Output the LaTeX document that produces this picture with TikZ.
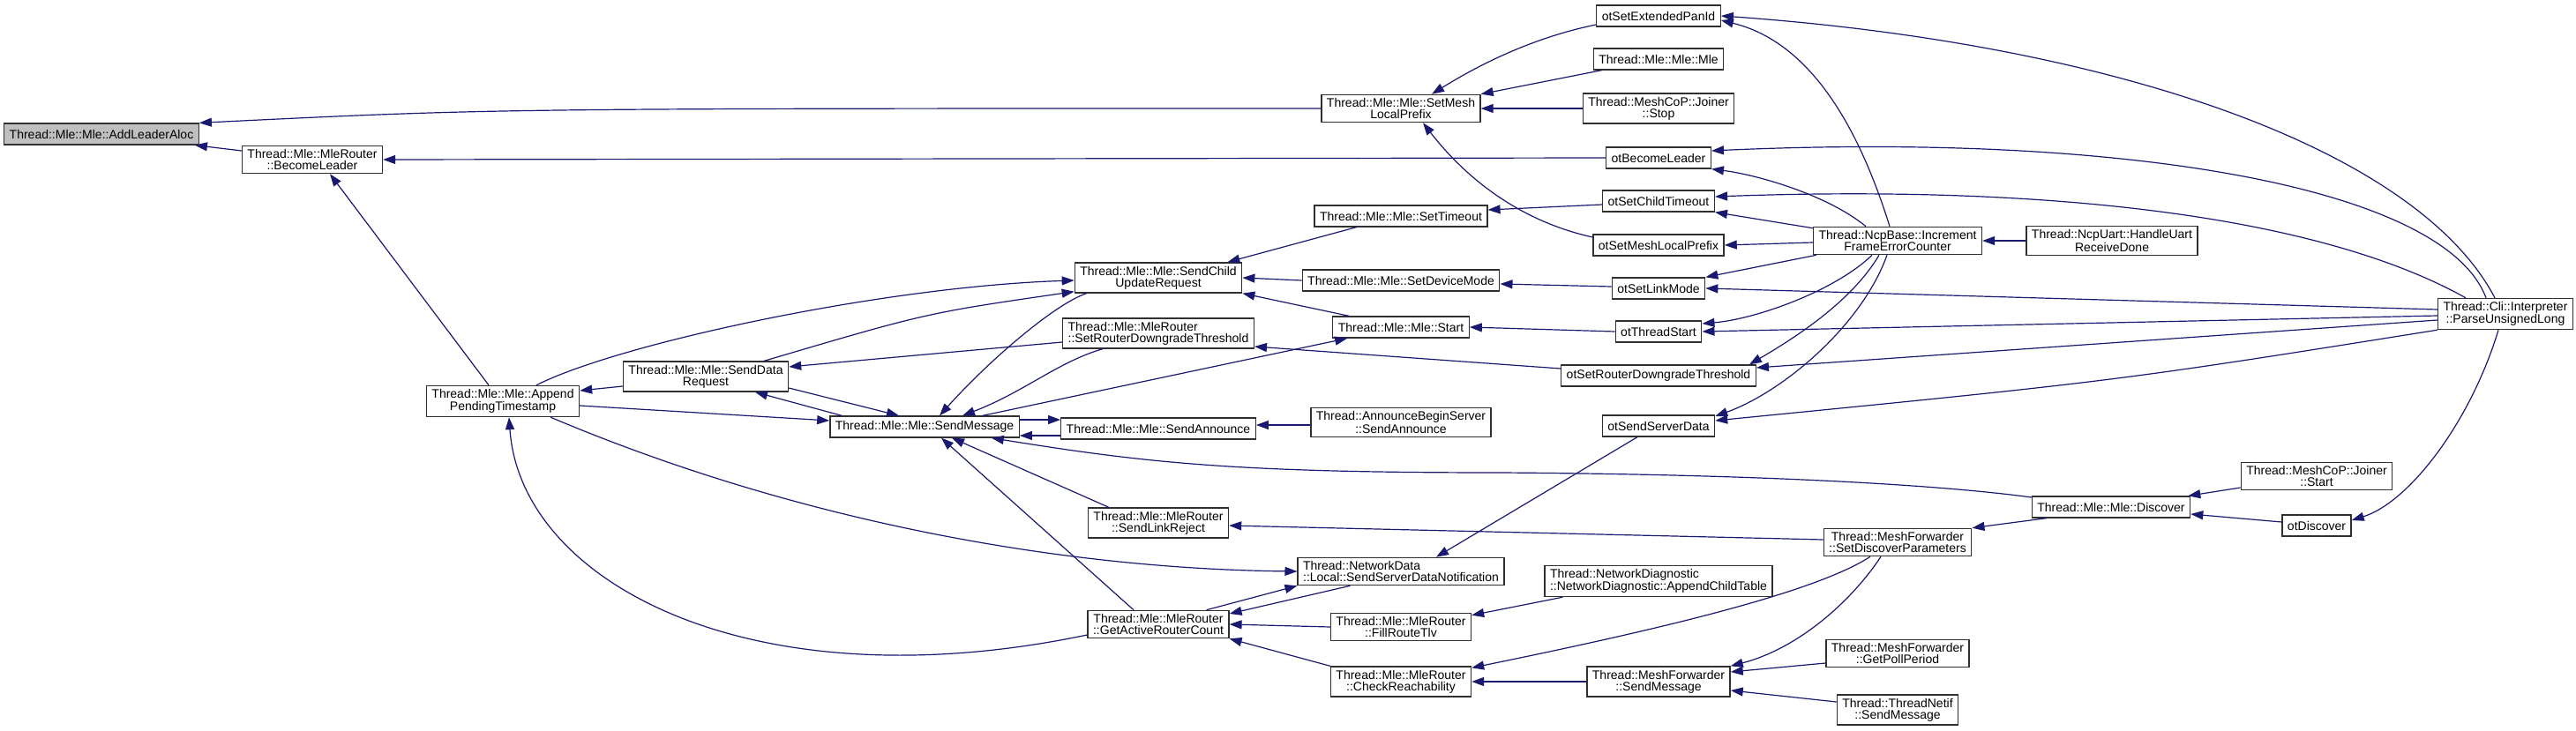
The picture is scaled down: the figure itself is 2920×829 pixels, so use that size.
\documentclass[tikz,border=0pt]{standalone}
\usepackage{fontspec}
\setmainfont{Liberation Sans}
\usepackage{xcolor}
\usepackage{tikz}
\usetikzlibrary{arrows.meta}
\definecolor{callblue}{HTML}{191970}
\definecolor{focusgray}{HTML}{BFBFBF}
\definecolor{boxline}{HTML}{303030}

\begin{document}
\begin{tikzpicture}[x=1pt, y=-1pt,
        fn/.style={rectangle, draw=boxline, line width=1.3pt, fill=white, font={\fontsize{14}{13}\selectfont}, align=center, inner xsep=6pt, inner ysep=4pt, minimum height=24pt},
        fnl/.style={fn, align=left},
        callline/.style={<-, >={Triangle[length=14pt, width=10pt]}, draw=callblue, line width=1.2pt}]
        \useasboundingbox (0,0) rectangle (2920,829);

        \node (addleader) [fn, fill=focusgray] at (115,152) {Thread::Mle::Mle::AddLeaderAloc};
        \node (becomeleader) [fn] at (354,181) {Thread::Mle::MleRouter\\::BecomeLeader};
        \node (append) [fn] at (570,455) {Thread::Mle::Mle::Append\\PendingTimestamp};
        \node (senddata) [fn] at (800,427) {Thread::Mle::Mle::SendData\\Request};
        \node (sendmsg) [fn] at (1048,484) {Thread::Mle::Mle::SendMessage};
        \node (scur) [fn] at (1313,315) {Thread::Mle::Mle::SendChild\\UpdateRequest};
        \node (srdt) [fnl] at (1313,378) {Thread::Mle::MleRouter\\::SetRouterDowngradeThreshold};
        \node (sendann) [fn] at (1313,486) {Thread::Mle::Mle::SendAnnounce};
        \node (linkrej) [fn] at (1313,593) {Thread::Mle::MleRouter\\::SendLinkReject};
        \node (activecnt) [fn] at (1313,708) {Thread::Mle::MleRouter\\::GetActiveRouterCount};
        \node (setmesh) [fn] at (1588,123) {Thread::Mle::Mle::SetMesh\\LocalPrefix};
        \node (settimeout) [fn] at (1588,245) {Thread::Mle::Mle::SetTimeout};
        \node (devmode) [fn] at (1588,318) {Thread::Mle::Mle::SetDeviceMode};
        \node (mlestart) [fn] at (1588,371) {Thread::Mle::Mle::Start};
        \node (annserver) [fn] at (1588,479) {Thread::AnnounceBeginServer\\::SendAnnounce};
        \node (ssdn) [fnl] at (1588,648) {Thread::NetworkData\\::Local::SendServerDataNotification};
        \node (filltlv) [fn] at (1588,711) {Thread::Mle::MleRouter\\::FillRouteTlv};
        \node (checkreach) [fn] at (1588,773) {Thread::Mle::MleRouter\\::CheckReachability};
        \node (otextpan) [fn] at (1880,18) {otSetExtendedPanId};
        \node (mlemle) [fn] at (1880,67) {Thread::Mle::Mle::Mle};
        \node (joinstop) [fn] at (1880,123) {Thread::MeshCoP::Joiner\\::Stop};
        \node (otbecome) [fn] at (1880,179) {otBecomeLeader};
        \node (otchild) [fn] at (1880,228) {otSetChildTimeout};
        \node (otmeshpfx) [fn] at (1880,278) {otSetMeshLocalPrefix};
        \node (otlinkmode) [fn] at (1880,327) {otSetLinkMode};
        \node (otstart) [fn] at (1880,376) {otThreadStart};
        \node (otsrdt) [fn] at (1880,426) {otSetRouterDowngradeThreshold};
        \node (otserver) [fn] at (1880,483) {otSendServerData};
        \node (childtable) [fnl] at (1880,659) {Thread::NetworkDiagnostic\\::NetworkDiagnostic::AppendChildTable};
        \node (mfsend) [fn] at (1880,773) {Thread::MeshForwarder\\::SendMessage};
        \node (ncpbase) [fn] at (2151,273) {Thread::NcpBase::Increment\\FrameErrorCounter};
        \node (discparams) [fn] at (2151,615) {Thread::MeshForwarder\\::SetDiscoverParameters};
        \node (pollperiod) [fn] at (2151,741) {Thread::MeshForwarder\\::GetPollPeriod};
        \node (netifsend) [fn] at (2151,805) {Thread::ThreadNetif\\::SendMessage};
        \node (uartdone) [fn] at (2394,273) {Thread::NcpUart::HandleUart\\ReceiveDone};
        \node (discover) [fn] at (2393,575) {Thread::Mle::Mle::Discover};
        \node (joinstart) [fn] at (2626,540) {Thread::MeshCoP::Joiner\\::Start};
        \node (otdiscover) [fn] at (2626,596) {otDiscover};
        \node (parseul) [fn] at (2840,356) {Thread::Cli::Interpreter\\::ParseUnsignedLong};

        \draw [callline] (addleader.north east) .. controls (560,123) .. (setmesh.west);
        \draw [callline] ([xshift=-5pt]addleader.south east) -- ([yshift=10pt]becomeleader.west);
        \draw [callline] (becomeleader.east) -- (otbecome.west);
        \draw [callline] ([xshift=20pt]becomeleader.south) -- ([xshift=-16pt]append.north);
        \draw [callline] ([yshift=12pt]append.east) -- ([yshift=-11pt]senddata.west);
        \draw [callline] ([yshift=-3pt]scur.west) .. controls (1000,325) and (700,390) .. ([xshift=38pt]append.north);
        \draw [callline] ([yshift=7pt]sendmsg.west) -- ([yshift=-5pt]append.east);
        \draw [callline] (ssdn.west) .. controls (1200,645) and (900,590) .. ([xshift=-33pt]append.south east);
        \draw [callline] ([xshift=7pt]append.south) .. controls (590,660) and (850,800) .. ([yshift=-12pt]activecnt.west);
        \draw [callline] ([yshift=2pt]scur.south west) .. controls (1050,355) .. ([xshift=-28pt]senddata.north east);
        \draw [callline] ([yshift=11pt]senddata.east) -- ([yshift=-10pt]srdt.west);
        \draw [callline] ([xshift=-17pt]scur.north east) -- ([xshift=48pt]settimeout.south west);
        \draw [callline] (scur.east) -- (devmode.west);
        \draw [callline] (scur.south east) -- ([xshift=19pt]mlestart.north west);
        \draw [callline] ([xshift=17pt]sendmsg.north) .. controls (1120,410) and (1195,345) .. ([xshift=14pt]scur.south west);
        \draw [callline] ([xshift=43pt]sendmsg.north) .. controls (1160,445) and (1200,410) .. ([xshift=46pt]srdt.south west);
        \draw [callline] ([xshift=17pt]mlestart.south west) -- ([xshift=-42pt]sendmsg.north east);
        \draw [callline] ([xshift=-29pt]sendmsg.north) -- ([yshift=-13pt]senddata.east);
        \draw [callline] ([xshift=56pt]senddata.south) -- ([xshift=14pt]sendmsg.north west);
        \draw [callline] ([yshift=10pt]sendann.west) -- ([yshift=8pt]sendmsg.east);
        \draw [callline] ([yshift=-10pt]sendmsg.east) -- ([yshift=-8pt]sendann.west);
        \draw [callline] ([yshift=4pt]sendann.east) -- ([yshift=-3pt]annserver.west);
        \draw [callline] ([xshift=-32pt]sendmsg.south east) .. controls (1300,525) and (1400,536) .. (1700,536) .. controls (2000,538) and (2200,550) .. ([yshift=11pt]discover.west);
        \draw [callline] ([xshift=31pt]sendmsg.south) -- ([xshift=24pt]linkrej.north west);
        \draw [callline] ([xshift=19pt]sendmsg.south) -- ([xshift=-28pt]activecnt.north);
        \draw [callline] ([yshift=-3pt]linkrej.east) -- ([yshift=3pt]discparams.west);
        \draw [callline] (ssdn.south west) -- ([xshift=-26pt]activecnt.north east);
        \draw [callline] ([yshift=12pt]activecnt.east) -- ([xshift=60pt]ssdn.south west);
        \draw [callline] (activecnt.east) -- (filltlv.west);
        \draw [callline] (activecnt.south east) -- (checkreach.north west);
        \draw [callline] ([xshift=40pt]ssdn.north) -- ([xshift=-24pt]otserver.south);
        \draw [callline] ([yshift=-3pt]filltlv.north east) -- ([xshift=21pt]childtable.south west);
        \draw [callline] ([yshift=-2pt]checkreach.north east) .. controls (1900,710) and (2060,670) .. ([xshift=-31pt]discparams.south);
        \draw [callline] (checkreach.east) -- (mfsend.west);
        \draw [callline] (mfsend.north east) .. controls (2040,735) and (2100,680) .. ([xshift=-19pt]discparams.south);
        \draw [callline] ([yshift=11pt]mfsend.east) -- ([yshift=-11pt]pollperiod.west);
        \draw [callline] ([yshift=-10pt]mfsend.east) -- ([yshift=9pt]netifsend.west);
        \draw [callline] (discparams.north east) -- ([xshift=17pt]discover.south west);
        \draw [callline] ([xshift=-3pt]discover.north east) -- ([yshift=-13pt]joinstart.west);
        \draw [callline] ([yshift=-8pt]discover.east) -- ([yshift=4pt]otdiscover.west);
        \draw [callline] ([yshift=6pt]otdiscover.east) .. controls (2730,570) and (2800,480) .. ([xshift=-8pt]parseul.south);
        \draw [callline] ([xshift=35pt]setmesh.north) .. controls (1690,65) and (1750,40) .. ([yshift=-10pt]otextpan.west);
        \draw [callline] (setmesh.north east) -- ([xshift=10pt]mlemle.south west);
        \draw [callline] (setmesh.east) -- (joinstop.west);
        \draw [callline] ([xshift=25pt]setmesh.south) .. controls (1660,200) and (1720,250) .. ([yshift=9pt]otmeshpfx.west);
        \draw [callline] (otbecome.south east) .. controls (1990,198) and (2070,220) .. ([xshift=-36pt]ncpbase.north);
        \draw [callline] ([yshift=-5pt]otextpan.east) .. controls (2020,40) and (2090,90) .. ([xshift=-9pt]ncpbase.north);
        \draw [callline] ([yshift=7pt]settimeout.east) -- ([yshift=-4pt]otchild.west);
        \draw [callline] (otchild.south east) -- ([yshift=-2pt]ncpbase.north west);
        \draw [callline] (otmeshpfx.east) -- ([yshift=-2pt]ncpbase.west);
        \draw [callline] ([yshift=-4pt]devmode.east) -- ([yshift=2pt]otlinkmode.west);
        \draw [callline] (otlinkmode.north east) -- ([xshift=4pt]ncpbase.south west);
        \draw [callline] (mlestart.east) -- (otstart.west);
        \draw [callline] ([yshift=9pt]otstart.east) .. controls (1990,362) and (2080,330) .. ([xshift=-29pt]ncpbase.south);
        \draw [callline] ([xshift=-8pt]otsrdt.north east) .. controls (2040,380) and (2100,340) .. ([xshift=-21pt]ncpbase.south);
        \draw [callline] ([yshift=11pt]otserver.east) .. controls (2020,445) and (2110,370) .. ([xshift=-12pt]ncpbase.south);
        \draw [callline] ([yshift=-15pt]srdt.east) -- ([yshift=8pt]otsrdt.west);
        \draw [callline] ([yshift=9pt]otsrdt.east) -- ([yshift=-7pt]parseul.west);
        \draw [callline] (ncpbase.east) -- (uartdone.west);
        \draw [callline] (otextpan.east) .. controls (2400,50) and (2740,170) .. ([xshift=-12pt]parseul.north);
        \draw [callline] ([yshift=8pt]otbecome.east) .. controls (2400,150) and (2770,210) .. ([xshift=-22pt]parseul.north);
        \draw [callline] ([yshift=5pt]otchild.east) .. controls (2300,210) and (2620,240) .. ([xshift=-45pt]parseul.north);
        \draw [callline] (otlinkmode.east) -- ([yshift=5pt]parseul.west);
        \draw [callline] (otstart.east) -- ([yshift=-2pt]parseul.west);
        \draw [callline] ([yshift=6pt]otserver.east) .. controls (2400,432) .. (parseul.south west);
    \end{tikzpicture}
\end{document}
